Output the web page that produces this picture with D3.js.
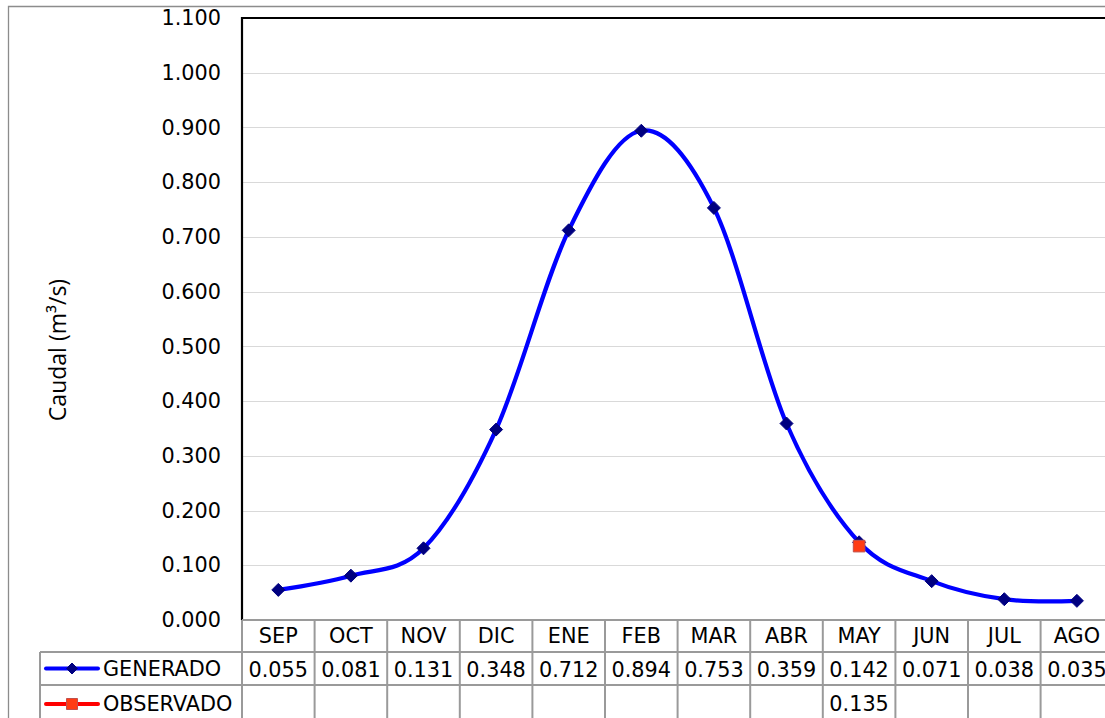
<!DOCTYPE html>
<html>
<head>
<meta charset="utf-8">
<script src="https://cdn.jsdelivr.net/npm/d3@7"></script>
<style>
  html, body { margin: 0; padding: 0; background: #fff; overflow: hidden; }
  svg { display: block; }
</style>
</head>
<body>
<svg id="chart" width="1105" height="718"></svg>
<script>
// Monthly discharge: generated series and one observed measurement
const months = ["SEP", "OCT", "NOV", "DIC", "ENE", "FEB", "MAR", "ABR", "MAY", "JUN", "JUL", "AGO"];
const generado = [0.055, 0.081, 0.131, 0.348, 0.712, 0.894, 0.753, 0.359, 0.142, 0.071, 0.038, 0.035];
const observado = [null, null, null, null, null, null, null, null, 0.135, null, null, null];
const yTicks = [0, 0.1, 0.2, 0.3, 0.4, 0.5, 0.6, 0.7, 0.8, 0.9, 1.0, 1.1];

const svg = d3.select("#chart");
const W = 1105, H = 718;
const plot = { left: 242, top: 18, bottom: 620, colW: 72.6 };
const rows = { header: 620, gen: 652, obs: 685, end: 730 };
const keyLeft = 40;
const gridGray = "#d9d9d9", tableGray = "#9a9a9a";
const numFont = "'DejaVu Sans', Verdana, sans-serif";
const fs = 20.8;

const x = d3.scaleBand().domain(months)
  .range([plot.left, plot.left + plot.colW * months.length]).padding(0);
const y = d3.scaleLinear().domain([0, 1.1]).range([plot.bottom, plot.top]);
const fmt = d3.format(".3f");

// outer chart frame
svg.append("path")
  .attr("d", `M8.5,${H} V6.5 H${W}`)
  .attr("fill", "none").attr("stroke", "#8c8c8c").attr("stroke-width", 1.3);

// horizontal gridlines
svg.append("g").selectAll("line").data(yTicks.filter(d => d > 0 && d < 1.1)).join("line")
  .attr("x1", plot.left).attr("x2", W)
  .attr("y1", d => Math.round(y(d)) + 0.5).attr("y2", d => Math.round(y(d)) + 0.5)
  .attr("stroke", gridGray).attr("stroke-width", 1);

// y axis labels
const yAxis = d3.axisLeft(y).tickValues(yTicks).tickFormat(fmt).tickSize(0).tickPadding(21);
const yg = svg.append("g").attr("transform", `translate(${plot.left},0)`).call(yAxis);
yg.select(".domain").remove();
yg.selectAll("text")
  .attr("font-family", numFont).attr("font-size", fs).attr("fill", "#000");

// plot frame (left and top)
svg.append("path")
  .attr("d", `M${plot.left},${plot.bottom} V${plot.top} H${W}`)
  .attr("fill", "none").attr("stroke", "#000").attr("stroke-width", 2.2);

// y axis title
svg.append("text")
  .attr("transform", `translate(66,${350}) rotate(-90)`)
  .attr("text-anchor", "middle")
  .attr("font-family", "'Open Sans', 'Noto Sans', sans-serif").attr("font-size", 23).attr("fill", "#000")
  .text("Caudal (m³/s)");

// data table beneath the plot
const tbl = svg.append("g");
const xEnd = plot.left + plot.colW * months.length;
[rows.header, rows.gen, rows.obs].forEach((ry, i) => {
  tbl.append("line")
    .attr("x1", i === 0 ? plot.left : keyLeft).attr("x2", xEnd)
    .attr("y1", ry).attr("y2", ry)
    .attr("stroke", tableGray).attr("stroke-width", 2);
});
tbl.append("line").attr("x1", keyLeft).attr("x2", keyLeft)
  .attr("y1", rows.gen).attr("y2", rows.end).attr("stroke", tableGray).attr("stroke-width", 2);
months.concat(["_end"]).forEach((m, i) => {
  const cx = plot.left + plot.colW * i;
  tbl.append("line").attr("x1", cx).attr("x2", cx)
    .attr("y1", rows.header).attr("y2", rows.end)
    .attr("stroke", tableGray).attr("stroke-width", 2);
});

const cellText = (txt, cx, cy) => tbl.append("text")
  .attr("x", cx).attr("y", cy).attr("text-anchor", "middle").attr("dominant-baseline", "central")
  .attr("font-family", numFont).attr("font-size", fs).attr("fill", "#000").text(txt);

months.forEach((m, i) => {
  const cx = x(m) + x.bandwidth() / 2;
  cellText(m, cx, (rows.header + rows.gen) / 2);
  cellText(fmt(generado[i]), cx, (rows.gen + rows.obs) / 2 + 1);
  if (observado[i] != null) cellText(fmt(observado[i]), cx, rows.obs + 19);
});

// marker shapes: square rotated 45° for diamonds, plain square for observed
const diamondPath = r => `M0,${-r}L${r},0L0,${r}L${-r},0Z`;
const squarePath = r => `M${-r},${-r}H${r}V${r}H${-r}Z`;

// legend keys in the row headers
function key(cy, color, sym, fill, stroke, label) {
  tbl.append("line").attr("x1", 46).attr("x2", 98).attr("y1", cy).attr("y2", cy)
    .attr("stroke", color).attr("stroke-width", 4).attr("stroke-linecap", "round");
  tbl.append("path").attr("d", sym).attr("transform", `translate(72,${cy})`)
    .attr("fill", fill).attr("stroke", stroke).attr("stroke-width", 1);
  tbl.append("text").attr("x", 103).attr("y", cy).attr("dominant-baseline", "central")
    .attr("font-family", numFont).attr("font-size", fs).attr("fill", "#000").text(label);
}
key((rows.gen + rows.obs) / 2, "#0000ff", diamondPath(5.5), "#000080", "#000080", "GENERADO");
key(rows.obs + 19, "#ff0000", squarePath(5.5), "#ff3c14", "#c0504d", "OBSERVADO");

// generated series: smooth line with diamond markers
const cx = m => x(m) + x.bandwidth() / 2;
const line = d3.line().x((d, i) => cx(months[i])).y(d => y(d)).curve(d3.curveCatmullRom.alpha(0));
svg.append("path").datum(generado).attr("d", line)
  .attr("fill", "none").attr("stroke", "#0000ff").attr("stroke-width", 4.2);
svg.append("g").selectAll("path").data(generado).join("path")
  .attr("d", diamondPath(6.5)).attr("transform", (d, i) => `translate(${cx(months[i])},${y(d)})`)
  .attr("fill", "#000080").attr("stroke", "#000080").attr("stroke-width", 1);

// observed point
svg.append("g").selectAll("path")
  .data(observado.map((v, i) => ({ m: months[i], v })).filter(d => d.v != null)).join("path")
  .attr("d", squarePath(5.8)).attr("transform", d => `translate(${cx(d.m)},${y(d.v)})`)
  .attr("fill", "#ff3c14").attr("stroke", "#c0504d").attr("stroke-width", 1);
</script>
</body>
</html>
